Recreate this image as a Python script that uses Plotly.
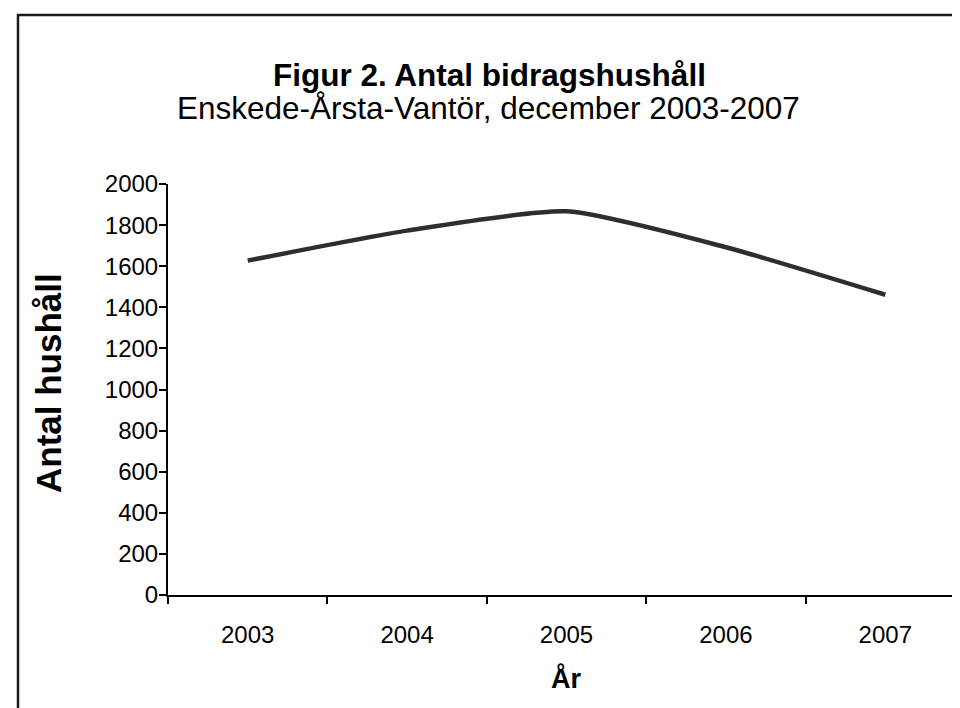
import plotly.graph_objects as go

years = ["2003", "2004", "2005", "2006", "2007"]
households = [1627, 1773, 1867, 1692, 1461]
y_ticks = list(range(0, 2001, 200))

title_text = "<b>Figur 2. Antal bidragshushåll</b>"
subtitle_text = "Enskede-Årsta-Vantör, december 2003-2007"
x_title = "<b>År</b>"
y_title = "<b>Antal hushåll</b>"

W, H = 960, 708
L, R, T, B = 160, 3, 176, 121
pw, ph = W - L - R, H - T - B

def px(x):
    return (x - L) / pw

def py(y):
    return (H - B - y) / ph

FONT = "Liberation Sans, Arial, sans-serif"

fig = go.Figure()
fig.add_trace(go.Scatter(
    x=years, y=households, mode="lines",
    line=dict(color="#2e2e2e", width=4.5, shape="spline", smoothing=0.6),
    showlegend=False, hoverinfo="x+y",
))

fig.update_layout(
    width=W, height=H,
    margin=dict(l=L, r=R, t=T, b=B),
    paper_bgcolor="white", plot_bgcolor="white",
    font=dict(family=FONT, color="black", size=24),
    xaxis=dict(
        type="category", range=[-0.5, 4.5], tickson="boundaries",
        ticks="outside", ticklen=7, tickwidth=1.5, tickcolor="black",
        showline=True, linecolor="black", linewidth=2,
        showgrid=False, zeroline=False,
        tickfont=dict(size=24, family=FONT), ticklabelstandoff=17,
    ),
    yaxis=dict(
        range=[0, 2000], tickvals=y_ticks,
        ticks="outside", ticklen=7, tickwidth=1.5, tickcolor="black",
        showline=True, linecolor="black", linewidth=2,
        showgrid=False, zeroline=False,
        tickfont=dict(size=24, family=FONT), ticklabelstandoff=-4,
    ),
    shapes=[dict(
        type="rect", xref="paper", yref="paper",
        x0=px(10), x1=px(968), y0=py(716), y1=py(7),
        line=dict(color="#1a1a1a", width=2.5), fillcolor="rgba(0,0,0,0)",
        layer="below",
    )],
    annotations=[
        dict(text=title_text, xref="paper", yref="paper", x=px(481), y=py(67),
             showarrow=False, font=dict(size=31.5, family=FONT), xanchor="center", yanchor="middle"),
        dict(text=subtitle_text, xref="paper", yref="paper", x=px(480), y=py(100),
             showarrow=False, font=dict(size=31.5, family=FONT), xanchor="center", yanchor="middle"),
        dict(text=x_title, xref="paper", yref="paper", x=px(558), y=py(670),
             showarrow=False, font=dict(size=27, family=FONT), xanchor="center", yanchor="middle"),
        dict(text=y_title, xref="paper", yref="paper", x=px(40), y=py(375),
             showarrow=False, font=dict(size=35, family=FONT), textangle=-90,
             xanchor="center", yanchor="middle"),
    ],
)

fig.write_html("out.html")
